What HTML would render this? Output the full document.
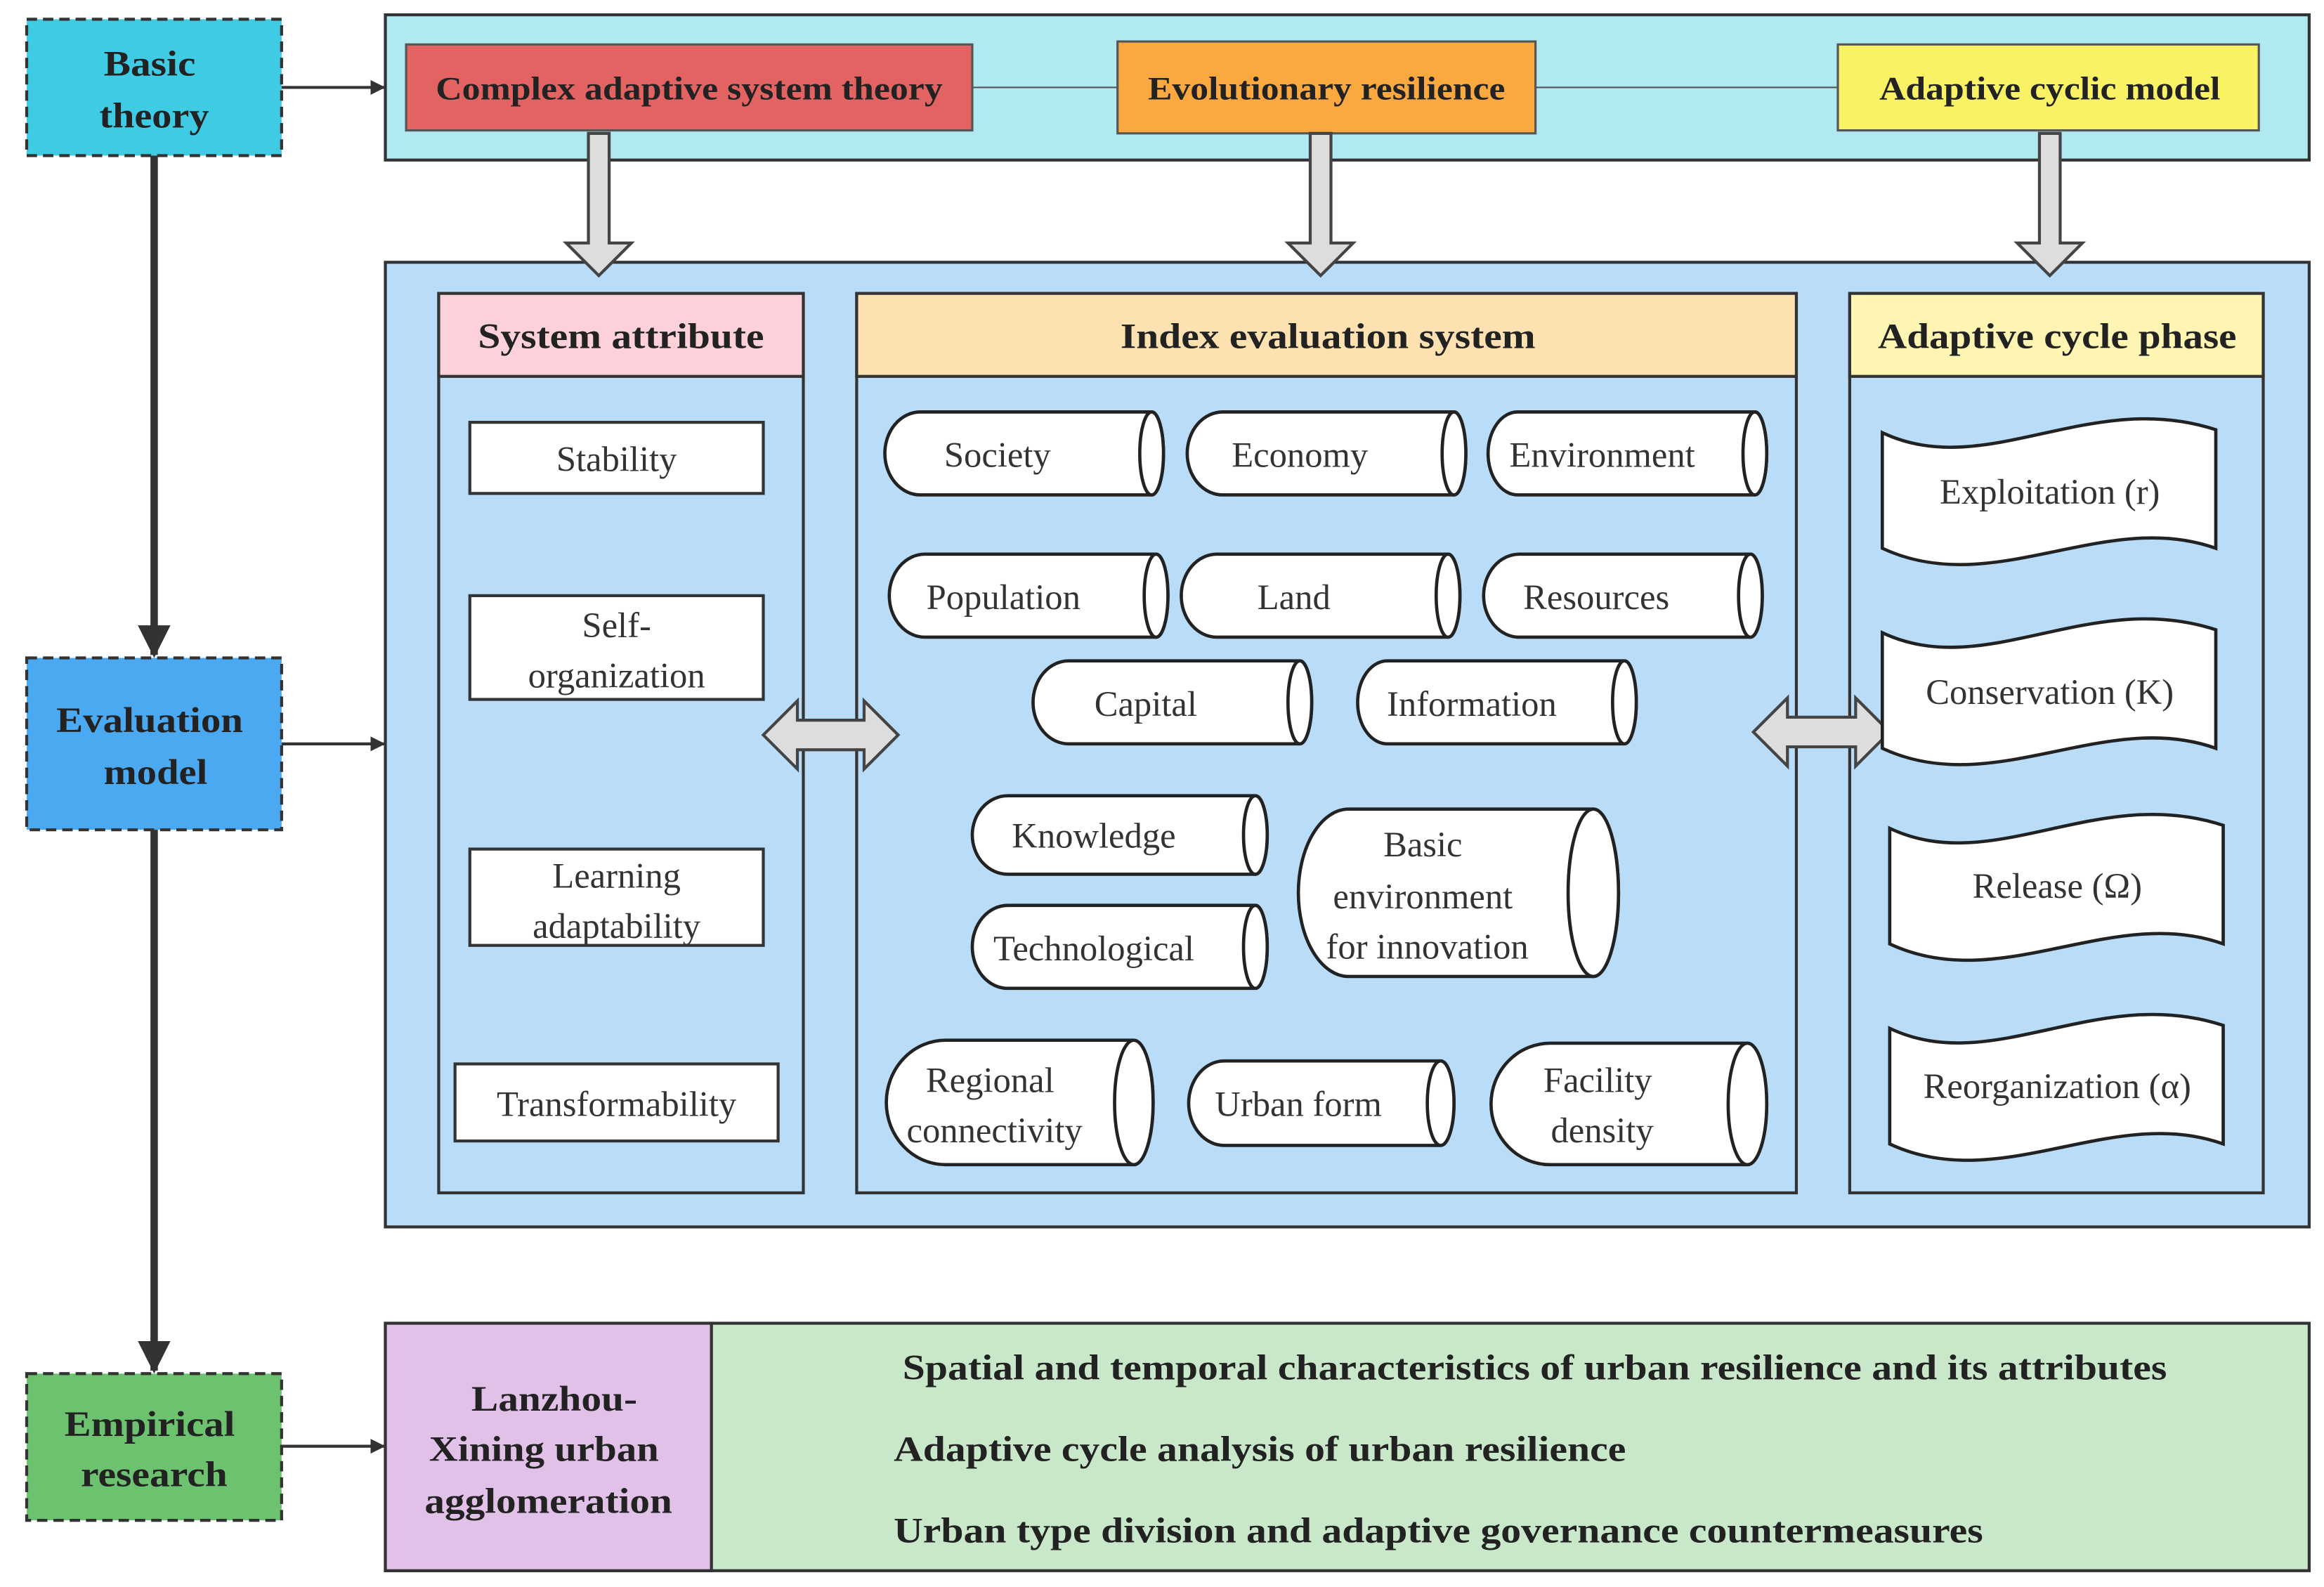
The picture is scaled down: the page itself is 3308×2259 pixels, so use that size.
<!DOCTYPE html>
<html><head><meta charset="utf-8"><style>html,body{margin:0;padding:0;background:#fff}svg{display:block}</style></head>
<body>
<svg xmlns="http://www.w3.org/2000/svg" width="3308" height="2259" viewBox="0 0 1568 1071" preserveAspectRatio="none" font-family="'Liberation Serif', serif">
<defs>
<marker id="ah" markerWidth="10" markerHeight="10" refX="9" refY="5" orient="auto" markerUnits="userSpaceOnUse"><path d="M0,0 L10,5 L0,10 Z" fill="#333"/></marker>
<marker id="ah2" markerWidth="22" markerHeight="22" refX="20" refY="11" orient="auto" markerUnits="userSpaceOnUse"><path d="M0,0 L22,11 L0,22 Z" fill="#333"/></marker>
</defs>
<rect width="1568" height="1071" fill="#fff"/>
<g stroke="#333" stroke-width="2" stroke-dasharray="7,4">
<rect x="18" y="13" width="172" height="92" fill="#3ecbe3"/>
<rect x="18" y="444" width="172" height="116" fill="#4aa9f0"/>
<rect x="18" y="927" width="172" height="99" fill="#6cc26f"/>
</g>
<g font-weight="bold" font-size="24" fill="#222" text-anchor="middle" lengthAdjust="spacingAndGlyphs">
<text x="101" y="51" textLength="62" lengthAdjust="spacingAndGlyphs">Basic</text><text x="104" y="86" textLength="74" lengthAdjust="spacingAndGlyphs">theory</text>
<text x="101" y="494" textLength="126" lengthAdjust="spacingAndGlyphs">Evaluation</text><text x="105" y="529" textLength="70" lengthAdjust="spacingAndGlyphs">model</text>
<text x="101" y="969" textLength="115" lengthAdjust="spacingAndGlyphs">Empirical</text><text x="104" y="1003" textLength="99" lengthAdjust="spacingAndGlyphs">research</text>
</g>
<g stroke="#333" stroke-width="5">
<line x1="104" y1="105" x2="104" y2="442" marker-end="url(#ah2)"/>
<line x1="104" y1="560" x2="104" y2="925" marker-end="url(#ah2)"/>
</g>
<g stroke="#333" stroke-width="2">
<line x1="190" y1="59" x2="259" y2="59" marker-end="url(#ah)"/>
<line x1="190" y1="502" x2="259" y2="502" marker-end="url(#ah)"/>
<line x1="190" y1="976" x2="259" y2="976" marker-end="url(#ah)"/>
</g>
<rect x="260" y="10" width="1298" height="98" fill="#b1e9f1" stroke="#333" stroke-width="2"/>
<line x1="656" y1="59" x2="1240" y2="59" stroke="#555" stroke-width="1"/>
<rect x="274" y="30" width="382" height="58" fill="#e36363" stroke="#555" stroke-width="1.5"/>
<rect x="754" y="28" width="282" height="62" fill="#f9a940" stroke="#555" stroke-width="1.5"/>
<rect x="1240" y="30" width="284" height="58" fill="#f9f264" stroke="#555" stroke-width="1.5"/>
<g font-weight="bold" font-size="22" fill="#222" text-anchor="middle">
<text x="465" y="67" textLength="342" lengthAdjust="spacingAndGlyphs">Complex adaptive system theory</text>
<text x="895" y="67" textLength="241" lengthAdjust="spacingAndGlyphs">Evolutionary resilience</text>
<text x="1383" y="67" textLength="230" lengthAdjust="spacingAndGlyphs">Adaptive cyclic model</text>
</g>
<rect x="260" y="177" width="1298" height="651" fill="#b9dcf8" stroke="#333" stroke-width="2"/>
<g fill="#ddd" stroke="#444" stroke-width="2">
<path d="M397,90 H411 V164 H426 L404,186 L382,164 H397 Z"/>
<path d="M884,90 H898 V164 H913 L891,186 L869,164 H884 Z"/>
<path d="M1376,90 H1390 V164 H1405 L1383,186 L1361,164 H1376 Z"/>
</g>
<g stroke="#333" stroke-width="2" fill="none">
<rect x="296" y="198" width="246" height="607"/>
<rect x="578" y="198" width="634" height="607"/>
<rect x="1248" y="198" width="279" height="607"/>
</g>
<rect x="296" y="198" width="246" height="56" fill="#fdd1d9" stroke="#333" stroke-width="2"/>
<rect x="578" y="198" width="634" height="56" fill="#fde1b1" stroke="#333" stroke-width="2"/>
<rect x="1248" y="198" width="279" height="56" fill="#fdf5b1" stroke="#333" stroke-width="2"/>
<g font-weight="bold" font-size="24" fill="#222" text-anchor="middle">
<text x="419" y="235" textLength="193" lengthAdjust="spacingAndGlyphs">System attribute</text>
<text x="896" y="235" textLength="280" lengthAdjust="spacingAndGlyphs">Index evaluation system</text>
<text x="1388" y="235" textLength="242" lengthAdjust="spacingAndGlyphs">Adaptive cycle phase</text>
</g>
<g fill="#fff" stroke="#333" stroke-width="2">
<rect x="317" y="285" width="198" height="48"/>
<rect x="317" y="402" width="198" height="70"/>
<rect x="317" y="573" width="198" height="65"/>
<rect x="307" y="718" width="218" height="52"/>
</g>
<g font-size="24" fill="#333" text-anchor="middle">
<text x="416" y="318">Stability</text>
<text x="416" y="430">Self-</text><text x="416" y="464">organization</text>
<text x="416" y="599">Learning</text><text x="416" y="633">adaptability</text>
<text x="416" y="753">Transformability</text>
</g>
<g fill="#ddd" stroke="#444" stroke-width="2">
<path d="M515,496 L538,473 V486 H583 V473 L606,496 L583,519 V506 H538 V519 Z"/>
<path d="M1183,494 L1206,471 V484 H1252 V471 L1275,494 L1252,517 V504 H1206 V517 Z"/>
</g>
<g fill="#fff" stroke="#222" stroke-width="2.2">
<path d="M621,278 H777 A8,28 0 0 1 777,334 H621 A24,28 0 0 1 621,278 Z"/><ellipse cx="777" cy="306" rx="8" ry="28"/>
<path d="M825,278 H981 A8,28 0 0 1 981,334 H825 A24,28 0 0 1 825,278 Z"/><ellipse cx="981" cy="306" rx="8" ry="28"/>
<path d="M1024,278 H1184 A8,28 0 0 1 1184,334 H1024 A20,28 0 0 1 1024,278 Z"/><ellipse cx="1184" cy="306" rx="8" ry="28"/>
<path d="M624,374 H780 A8,28 0 0 1 780,430 H624 A24,28 0 0 1 624,374 Z"/><ellipse cx="780" cy="402" rx="8" ry="28"/>
<path d="M821,374 H977 A8,28 0 0 1 977,430 H821 A24,28 0 0 1 821,374 Z"/><ellipse cx="977" cy="402" rx="8" ry="28"/>
<path d="M1025,374 H1181 A8,28 0 0 1 1181,430 H1025 A24,28 0 0 1 1025,374 Z"/><ellipse cx="1181" cy="402" rx="8" ry="28"/>
<path d="M721,446 H877 A8,28 0 0 1 877,502 H721 A24,28 0 0 1 721,446 Z"/><ellipse cx="877" cy="474" rx="8" ry="28"/>
<path d="M936,446 H1096 A8,28 0 0 1 1096,502 H936 A20,28 0 0 1 936,446 Z"/><ellipse cx="1096" cy="474" rx="8" ry="28"/>
<path d="M680,537 H847 A8,26.5 0 0 1 847,590 H680 A24,26.5 0 0 1 680,537 Z"/><ellipse cx="847" cy="563.5" rx="8" ry="26.5"/>
<path d="M680,611 H847 A8,28 0 0 1 847,667 H680 A24,28 0 0 1 680,611 Z"/><ellipse cx="847" cy="639" rx="8" ry="28"/>
<path d="M910,546 H1075 A17,56.5 0 0 1 1075,659 H910 A34,56.5 0 0 1 910,546 Z"/><ellipse cx="1075" cy="602.5" rx="17" ry="56.5"/>
<path d="M638,702 H765 A13,42 0 0 1 765,786 H638 A40,42 0 0 1 638,702 Z"/><ellipse cx="765" cy="744" rx="13" ry="42"/>
<path d="M826,716 H972 A9,28.5 0 0 1 972,773 H826 A24,28.5 0 0 1 826,716 Z"/><ellipse cx="972" cy="744.5" rx="9" ry="28.5"/>
<path d="M1046,704 H1179 A13,41 0 0 1 1179,786 H1046 A40,41 0 0 1 1046,704 Z"/><ellipse cx="1179" cy="745" rx="13" ry="41"/>
</g>
<g font-size="24" fill="#333" text-anchor="middle">
<text x="673" y="315">Society</text>
<text x="877" y="315">Economy</text>
<text x="1081" y="315">Environment</text>
<text x="677" y="411">Population</text>
<text x="873" y="411">Land</text>
<text x="1077" y="411">Resources</text>
<text x="773" y="483">Capital</text>
<text x="993" y="483">Information</text>
<text x="738" y="572">Knowledge</text>
<text x="738" y="648">Technological</text>
<text x="960" y="578">Basic</text><text x="960" y="613">environment</text><text x="963" y="647">for innovation</text>
<text x="668" y="737">Regional</text><text x="671" y="771">connectivity</text>
<text x="876" y="753">Urban form</text>
<text x="1078" y="737">Facility</text><text x="1081" y="771">density</text>
</g>
<g fill="#fff" stroke="#222" stroke-width="2.2">
<path d="M1270,292 C1340,325 1410,262 1495,290 V370 C1420,343 1345,405 1270,370 Z"/>
<path d="M1270,427 C1340,460 1410,397 1495,425 V505 C1420,478 1345,540 1270,505 Z"/>
<path d="M1275,559 C1345,592 1415,529 1500,557 V637 C1425,610 1350,672 1275,637 Z"/>
<path d="M1275,694 C1345,727 1415,664 1500,692 V772 C1425,745 1350,807 1275,772 Z"/>
</g>
<g font-size="24" fill="#333" text-anchor="middle">
<text x="1383" y="340">Exploitation (r)</text>
<text x="1383" y="475">Conservation (K)</text>
<text x="1388" y="606">Release (Ω)</text>
<text x="1388" y="741">Reorganization (α)</text>
</g>
<rect x="260" y="893" width="1298" height="167" fill="#c9e8c9" stroke="#333" stroke-width="2"/>
<rect x="260" y="893" width="220" height="167" fill="#e1c1e8" stroke="#333" stroke-width="2"/>
<g font-weight="bold" font-size="24" fill="#222">
<text x="374" y="952" text-anchor="middle" textLength="112" lengthAdjust="spacingAndGlyphs">Lanzhou-</text>
<text x="367" y="986" text-anchor="middle" textLength="155" lengthAdjust="spacingAndGlyphs">Xining urban</text>
<text x="370" y="1021" text-anchor="middle" textLength="167" lengthAdjust="spacingAndGlyphs">agglomeration</text>
<text x="609" y="931" textLength="853" lengthAdjust="spacingAndGlyphs">Spatial and temporal characteristics of urban resilience and its attributes</text>
<text x="603" y="986" textLength="494" lengthAdjust="spacingAndGlyphs">Adaptive cycle analysis of urban resilience</text>
<text x="603" y="1041" textLength="735" lengthAdjust="spacingAndGlyphs">Urban type division and adaptive governance countermeasures</text>
</g>
</svg>
</body></html>
